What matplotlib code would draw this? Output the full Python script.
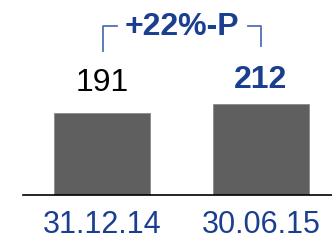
import matplotlib
matplotlib.use("Agg")
import matplotlib.pyplot as plt

categories = ["31.12.14", "30.06.15"]
values = [191, 212]
value_labels = ["191", "212"]
change_label = "+22%-P"

W, H = 332, 240
fig = plt.figure(figsize=(W / 100, H / 100), dpi=100)
plt.rcParams['font.family'] = ['Liberation Sans', 'DejaVu Sans']

blue = "#1b3f8f"
bar_color = "#5f5f5f"

# axes: left at x=23px, bottom at y=195px (from top)
ax = fig.add_axes([23 / W, 1 - 195 / H, 1 - 23 / W, 195 / H])
px_per_unit = 82 / 191
ax.set_ylim(0, 195 / px_per_unit)
spacing = 159
ax.set_xlim(-(102 - 23) / spacing, 1 + (332 - 261) / spacing)

x = list(range(len(categories)))
ax.bar(x, values, width=96 / spacing, color=bar_color, edgecolor="#8a8a8a", linewidth=0.6)

for s in ["top", "right", "left"]:
    ax.spines[s].set_visible(False)
ax.spines["bottom"].set_linewidth(1.2)
ax.spines["bottom"].set_color("black")
ax.set_yticks([])
ax.set_xticks(x)
ax.set_xticklabels(categories, fontsize=22, color=blue)
ax.tick_params(axis="x", length=0, pad=11)

# value labels
ax.text(x[0], values[0] + 22 / px_per_unit, value_labels[0], ha="center", va="baseline",
        fontsize=23, color="black")
ax.text(x[1], values[1] + 16 / px_per_unit, value_labels[1], ha="center", va="baseline",
        fontsize=23, color=blue, fontweight="bold")

# bracket with change label (figure pixel coords)
def fx(px):
    return px / W

def fy(py):
    return 1 - py / H

bcol = "#5070b8"
fig.add_artist(plt.Line2D([fx(103), fx(103), fx(117)], [fy(51), fy(26), fy(26)],
                          color=bcol, linewidth=1.3))
fig.add_artist(plt.Line2D([fx(248), fx(261), fx(261)], [fy(26), fy(26), fy(46)],
                          color=bcol, linewidth=1.3))
fig.text(fx(182), fy(35), change_label, ha="center", va="baseline", fontsize=23,
         color=blue, fontweight="bold")

fig.savefig("out.png", dpi=100)
